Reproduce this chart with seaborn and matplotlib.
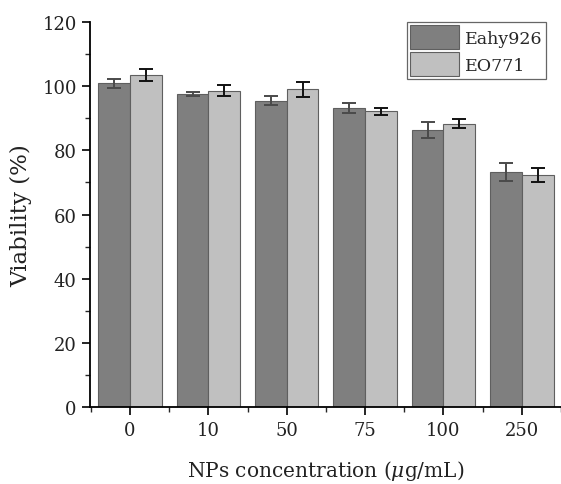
import numpy as np
import pandas as pd
import seaborn as sns
import matplotlib.pyplot as plt
from matplotlib.ticker import MultipleLocator

concentrations = ["0", "10", "50", "75", "100", "250"]
eahy926 = [100.8, 97.6, 95.5, 93.1, 86.3, 73.3]
eahy926_err = [1.4, 0.6, 1.4, 1.5, 2.5, 2.9]
eo771 = [103.4, 98.6, 99.0, 92.1, 88.3, 72.3]
eo771_err = [1.8, 1.8, 2.4, 1.0, 1.4, 2.2]
cells = ["Eahy926", "EO771"]

df = pd.DataFrame({
    "conc": concentrations * 2,
    "viab": eahy926 + eo771,
    "cell": [cells[0]] * len(concentrations) + [cells[1]] * len(concentrations),
})
errors = [eahy926_err, eo771_err]

sns.set_style("ticks")
plt.rcParams["font.family"] = ["DejaVu Serif"]
plt.rcParams["mathtext.fontset"] = "dejavuserif"

fig = plt.figure(figsize=(5.61, 4.85), dpi=100)
ax = fig.add_axes([0.1604, 0.158, 0.8396, 0.795])

colors = ["#7f7f7f", "#c0c0c0"]
sns.barplot(data=df, x="conc", y="viab", hue="cell", palette=colors,
            width=0.81, edgecolor="#5f5f5f", linewidth=0.8, errorbar=None,
            saturation=1, ax=ax)

# error bars drawn on top of the seaborn bars
err_colors = ["#4a4a4a", "#111111"]
for cont, err, ec in zip(ax.containers, errors, err_colors):
    xs = [p.get_x() + p.get_width() / 2 for p in cont]
    hs = [p.get_height() for p in cont]
    ax.errorbar(xs, hs, yerr=err, fmt="none", ecolor=ec, elinewidth=1.4,
                capsize=5, capthick=1.4, zorder=5)

ax.set_ylim(0, 120)
ax.set_xlim(-0.511, 5.362)
ax.yaxis.set_major_locator(MultipleLocator(20))
ax.yaxis.set_minor_locator(MultipleLocator(10))
ax.set_xticks(np.arange(-0.5, 6, 1.0), minor=True)
ax.tick_params(axis="both", which="major", length=6, width=1.2, labelsize=13,
               colors="black", labelcolor="#222222")
ax.tick_params(axis="both", which="minor", length=3.5, width=1.0)
for s in ["left", "bottom"]:
    ax.spines[s].set_linewidth(1.3)
    ax.spines[s].set_color("black")
sns.despine(ax=ax)

ax.set_xlabel(r"NPs concentration ($\mu$g/mL)", fontsize=14.5, labelpad=14,
              color="#222222")
ax.set_ylabel("Viability (%)", fontsize=16.5, labelpad=7, color="#222222")

handles, labels = ax.get_legend_handles_labels()
leg = ax.legend(handles, labels, loc="upper right", bbox_to_anchor=(0.968, 1.0),
                borderaxespad=0, fontsize=12.5, handlelength=2.8,
                handleheight=1.7, handletextpad=0.35, labelspacing=0.2,
                borderpad=0.2, fancybox=False, framealpha=1,
                edgecolor="#666666")
leg.get_frame().set_linewidth(0.9)

fig.savefig("out.png", dpi=100)
